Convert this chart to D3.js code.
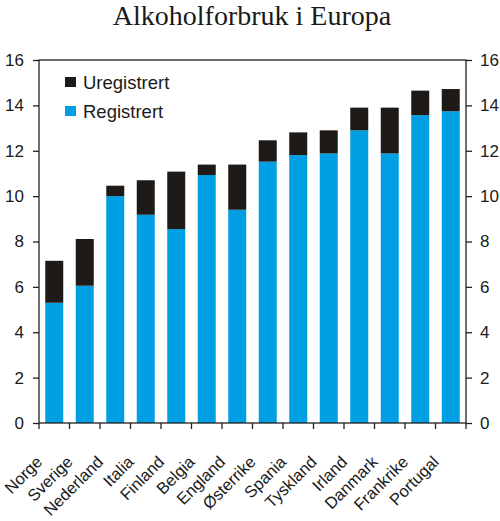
<!DOCTYPE html>
<html>
<head>
<meta charset="utf-8">
<script src="https://cdn.jsdelivr.net/npm/d3@7"></script>
<style>
  body { margin: 0; background: #fff; }
  svg text { font-family: "Liberation Sans", Arial, sans-serif; fill: #1a1a1a; }
  .title { font-family: "Liberation Serif", "Times New Roman", serif; font-size: 28px; }
</style>
</head>
<body>
<script>
// Data (litre ren alkohol per innbygger)
const countries = ["Norge", "Sverige", "Nederland", "Italia", "Finland", "Belgia", "England",
                   "Østerrike", "Spania", "Tyskland", "Irland", "Danmark", "Frankrike", "Portugal"];
const registrert = [5.3, 6.05, 10.0, 9.18, 8.55, 10.93, 9.4, 11.52, 11.81, 11.88, 12.9, 11.88, 13.57, 13.74];
const uregistrert = [1.85, 2.06, 0.46, 1.52, 2.53, 0.46, 1.99, 0.94, 1.0, 1.02, 1.0, 2.02, 1.08, 0.98];
const yTicks = [0, 2, 4, 6, 8, 10, 12, 14, 16];
const seriesNames = ["Uregistrert", "Registrert"];
const colors = { Registrert: "#009fe3", Uregistrert: "#1e1a17" };

document.addEventListener("DOMContentLoaded", function() {
    const w = 500, h = 521;
    const left = 39, right = 466, top = 60, bottom = 423;

    const svg = d3.select("body").append("svg").attr("width", w).attr("height", h);

    const xScale = d3.scaleBand().domain(countries).range([left, right]).paddingInner(0.41).paddingOuter(0.205);
    const yScale = d3.scaleLinear().domain([0, 16]).range([bottom, top]);

    const rows = countries.map((c, i) => ({ land: c, Registrert: registrert[i], Uregistrert: uregistrert[i] }));
    const stacked = d3.stack().keys(["Registrert", "Uregistrert"])(rows);

    svg.append("g").selectAll("g")
        .data(stacked)
        .enter()
        .append("g")
        .attr("fill", (s) => colors[s.key])
        .selectAll("rect")
        .data((s) => s)
        .enter()
        .append("rect")
        .attr("x", (d) => xScale(d.data.land))
        .attr("y", (d) => yScale(d[1]))
        .attr("width", xScale.bandwidth())
        .attr("height", (d) => yScale(d[0]) - yScale(d[1]));

    // frame / axes
    const yLeft = d3.axisLeft(yScale).tickValues(yTicks).tickSize(6).tickPadding(9);
    const yRight = d3.axisRight(yScale).tickValues(yTicks).tickSize(6).tickPadding(8);

    const gl = svg.append("g").attr("transform", "translate(" + left + ",0)").call(yLeft);
    const gr = svg.append("g").attr("transform", "translate(" + right + ",0)").call(yRight);
    [gl, gr].forEach((g) => {
        g.select(".domain").remove();
        g.selectAll("line").attr("stroke", "#222").attr("stroke-width", 1.3);
        g.selectAll("text").attr("font-size", 17).attr("fill", "#1a1a1a")
            .attr("font-family", "Liberation Sans, Arial, sans-serif");
    });

    // x tick marks at band edges
    const edges = countries.map((c) => xScale(c) - xScale.step() * xScale.paddingInner() / 2);
    edges.push(right);
    svg.append("g").selectAll("line")
        .data(edges)
        .enter()
        .append("line")
        .attr("x1", (d) => d).attr("x2", (d) => d)
        .attr("y1", bottom).attr("y2", bottom + 6)
        .attr("stroke", "#222").attr("stroke-width", 1.3);

    svg.append("rect")
        .attr("x", left).attr("y", top)
        .attr("width", right - left).attr("height", bottom - top)
        .attr("fill", "none").attr("stroke", "#222").attr("stroke-width", 1.3);

    // category labels
    svg.append("g").selectAll("text")
        .data(countries)
        .enter()
        .append("text")
        .attr("transform", (d) => "translate(" + (xScale(d) + xScale.bandwidth() / 2 - 11) + "," + (bottom + 40) + ") rotate(-45)")
        .attr("text-anchor", "end")
        .attr("font-size", 16.5)
        .text((d) => d);

    // legend
    const legend = svg.append("g").selectAll("g")
        .data(seriesNames)
        .enter()
        .append("g")
        .attr("transform", (d, i) => "translate(65," + (77 + i * 29) + ")");
    legend.append("rect").attr("width", 11).attr("height", 10).attr("fill", (d) => colors[d]);
    legend.append("text").attr("x", 18).attr("y", 12.3).attr("font-size", 18.5).text((d) => d);

    svg.append("text")
        .attr("x", 252)
        .attr("y", 25)
        .attr("text-anchor", "middle")
        .attr("class", "title")
        .text("Alkoholforbruk i Europa");
});
</script>
</body>
</html>
